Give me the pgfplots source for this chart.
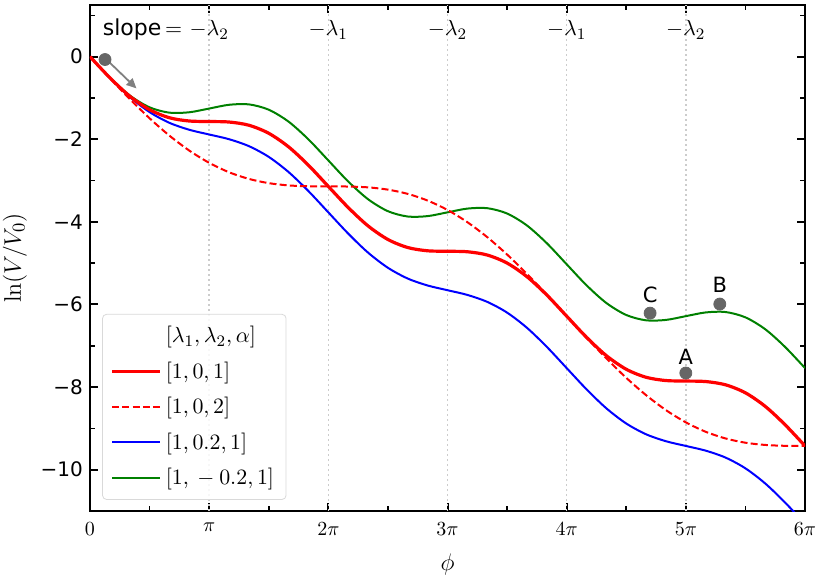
\documentclass[border=0pt]{standalone}
\usepackage[no-math]{fontspec}
\setmainfont{DejaVu Sans}
\usepackage{pgfplots}
\usepackage{pgfplotstable}
\pgfplotsset{compat=1.18}
\usetikzlibrary{arrows.meta}
\definecolor{mplgreen}{rgb}{0,0.5,0}
\definecolor{dotgray}{rgb}{0.4,0.4,0.4}
\definecolor{gridgray}{rgb}{0.8,0.8,0.8}

\pgfplotstableread{
t red dash blue green
0 0 0 0 0
0.1667 -0.512 -0.521 -0.514 -0.509
0.3333 -0.957 -1.024 -0.975 -0.939
0.5 -1.285 -1.493 -1.343 -1.228
0.6667 -1.480 -1.913 -1.603 -1.357
0.8333 -1.559 -2.275 -1.771 -1.347
1 -1.571 -2.571 -1.885 -1.257
1.1667 -1.583 -2.799 -1.999 -1.166
1.3333 -1.661 -2.960 -2.167 -1.156
1.5 -1.856 -3.063 -2.427 -1.285
1.6667 -2.185 -3.118 -2.795 -1.575
1.8333 -2.630 -3.139 -3.256 -2.004
2 -3.142 -3.142 -3.770 -2.513
2.1667 -3.653 -3.145 -4.284 -3.023
2.3333 -4.098 -3.165 -4.745 -3.452
2.5 -4.427 -3.220 -5.112 -3.742
2.6667 -4.622 -3.323 -5.373 -3.871
2.8333 -4.701 -3.485 -5.541 -3.861
3 -4.712 -3.712 -5.655 -3.770
3.1667 -4.724 -4.008 -5.769 -3.679
3.3333 -4.803 -4.370 -5.937 -3.669
3.5 -4.998 -4.791 -6.197 -3.798
3.6667 -5.327 -5.260 -6.565 -4.088
3.8333 -5.771 -5.763 -7.026 -4.517
4 -6.283 -6.283 -7.540 -5.027
4.1667 -6.795 -6.804 -8.054 -5.536
4.3333 -7.240 -7.307 -8.515 -5.965
4.5 -7.569 -7.776 -8.882 -6.255
4.6667 -7.763 -8.196 -9.143 -6.384
4.8333 -7.842 -8.558 -9.311 -6.374
5 -7.854 -8.854 -9.425 -6.283
5.1667 -7.866 -9.082 -9.539 -6.193
5.3333 -7.945 -9.244 -9.707 -6.183
5.5 -8.139 -9.347 -9.967 -6.312
5.6667 -8.468 -9.401 -10.335 -6.601
5.8333 -8.913 -9.422 -10.796 -7.030
6 -9.425 -9.425 -11.310 -7.540
}\curves

\pgfplotstableread{
x y
0.126 -0.07
4.70 -6.21
5.285 -5.99
5.0 -7.66
}\dots

\begin{document}
\begin{tikzpicture}
\begin{axis}[
  width=357.5pt, height=253pt, scale only axis,
  xmin=0, xmax=6, ymin=-11, ymax=1.25,
  axis line style={line width=1.3pt},
  tick align=inside, xtick pos=both, ytick pos=both,
  xtick={0,1,2,3,4,5,6},
  xticklabels={$0$,$\pi$,$2\pi$,$3\pi$,$4\pi$,$5\pi$,$6\pi$},
  minor xtick={0.5,1.5,2.5,3.5,4.5,5.5},
  ytick={-10,-8,-6,-4,-2,0},
  yticklabels={−10,−8,−6,−4,−2,0},
  minor ytick={-9,-7,-5,-3,-1,1},
  major tick length=4pt, minor tick length=2.5pt,
  every tick/.style={black, line width=1pt},
  every minor tick/.style={black, line width=0.8pt},
  xticklabel style={font=\fontsize{10}{12}\selectfont, yshift=-2.5pt},
  yticklabel style={font=\fontsize{10}{12}\selectfont},
  xlabel={$\phi$}, ylabel={$\ln(V/V_0)$},
  label style={font=\fontsize{13}{15}\selectfont},
  xlabel style={at={(axis description cs:0.5,-0.105)}, anchor=center},
  ylabel style={at={(axis description cs:-0.105,0.5)}, anchor=center},
  legend style={at={(0.017,0.022)}, anchor=south west, draw=black!15,
    rounded corners=2pt, fill=white, fill opacity=0.85, text opacity=1,
    draw opacity=1, font=\fontsize{11}{13}\selectfont,
    row sep=4pt, inner xsep=4pt, inner ysep=4pt},
  legend cell align=left,
  legend image code/.code={\draw[#1] (0pt,0pt) -- (24pt,0pt);},
]
% reference lines
\addplot[gridgray, line width=0.8pt, dash pattern=on 1pt off 1.5pt, forget plot] coordinates {(1,-11) (1,1.25)};
\addplot[gridgray, line width=0.8pt, dash pattern=on 1pt off 1.5pt, forget plot] coordinates {(2,-11) (2,1.25)};
\addplot[gridgray, line width=0.8pt, dash pattern=on 1pt off 1.5pt, forget plot] coordinates {(3,-11) (3,1.25)};
\addplot[gridgray, line width=0.8pt, dash pattern=on 1pt off 1.5pt, forget plot] coordinates {(4,-11) (4,1.25)};
\addplot[gridgray, line width=0.8pt, dash pattern=on 1pt off 1.5pt, forget plot] coordinates {(5,-11) (5,1.25)};

\addlegendimage{empty legend}
\addlegendentry{$[\lambda_1,\lambda_2,\alpha]$}

\addplot[mplgreen, line width=1pt, smooth, forget plot] table[x=t, y=green] {\curves};
\addplot[blue, line width=1pt, smooth, forget plot] table[x=t, y=blue] {\curves};
\addplot[red, line width=1pt, smooth, dash pattern=on 3.5pt off 1.6pt, forget plot] table[x=t, y=dash] {\curves};
\addplot[red, line width=1.6pt, smooth] table[x=t, y=red] {\curves};
\addlegendentry{$[1,0,1]$}
\addlegendimage{red, line width=1pt, dash pattern=on 3.5pt off 1.6pt}
\addlegendentry{$[1,0,2]$}
\addlegendimage{blue, line width=1pt}
\addlegendentry{$[1,0.2,1]$}
\addlegendimage{mplgreen, line width=1pt}
\addlegendentry{$[1,{}-0.2,1]$}

\addplot[only marks, mark=*, mark size=3pt, dotgray, forget plot] table[x=x, y=y] {\dots};
\draw[-{Triangle[length=5pt,width=4.5pt]}, gray, line width=0.9pt] (axis cs:0.16,-0.13) -- (axis cs:0.39,-0.77);

\node[font=\fontsize{10.5}{12}\selectfont] at (axis cs:4.70,-5.76) {C};
\node[font=\fontsize{10.5}{12}\selectfont] at (axis cs:5.285,-5.52) {B};
\node[font=\fontsize{10.5}{12}\selectfont] at (axis cs:5.0,-7.26) {A};

\node (s1) [anchor=base, font=\fontsize{11}{13}\selectfont] at (axis cs:1,0.5) {$-\lambda_2$};
\node[anchor=base east, inner sep=0pt, font=\fontsize{11}{13}\selectfont] at (s1.base west) {slope$\,=$};
\node[anchor=base, font=\fontsize{11}{13}\selectfont] at (axis cs:2,0.5) {$-\lambda_1$};
\node[anchor=base, font=\fontsize{11}{13}\selectfont] at (axis cs:3,0.5) {$-\lambda_2$};
\node[anchor=base, font=\fontsize{11}{13}\selectfont] at (axis cs:4,0.5) {$-\lambda_1$};
\node[anchor=base, font=\fontsize{11}{13}\selectfont] at (axis cs:5,0.5) {$-\lambda_2$};
\end{axis}
\pgfresetboundingbox
\path[use as bounding box] ([xshift=-45pt,yshift=-35.5pt]current axis.south west) rectangle ([xshift=8.5pt,yshift=2.5pt]current axis.north east);
\end{tikzpicture}
\end{document}
